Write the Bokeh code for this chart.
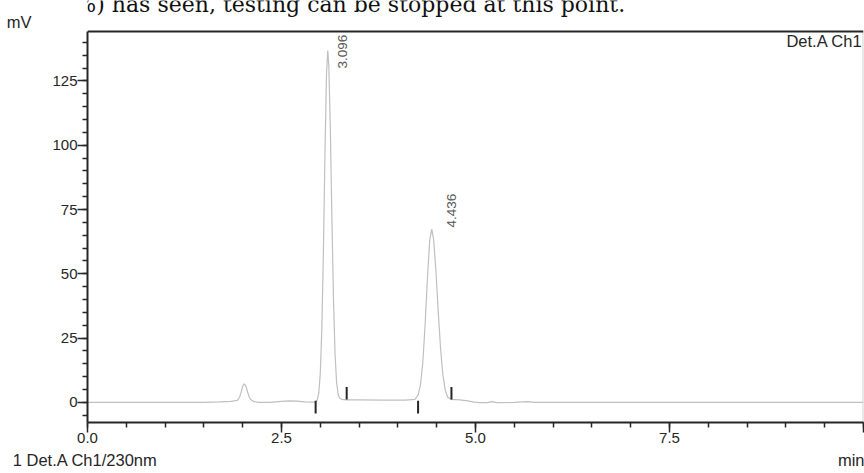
import math
from bokeh.plotting import figure
from bokeh.models import (Range1d, FixedTicker, LinearAxis, Label, ColumnDataSource,
                          PrintfTickFormatter, Span)
from bokeh.core.properties import value
from bokeh.embed import file_html
from bokeh.resources import INLINE

# ---------------- data ----------------
time_min = [0.00, 0.50, 1.00, 1.50, 1.70, 1.85, 1.93, 1.96, 1.98, 2.00, 2.02, 2.04,
            2.06, 2.08, 2.10, 2.14, 2.20, 2.35, 2.50, 2.60, 2.70, 2.80, 2.90, 2.94,
            2.96, 2.98, 3.00, 3.02, 3.04, 3.06, 3.08, 3.096, 3.11, 3.13, 3.15, 3.17,
            3.19, 3.21, 3.23, 3.25, 3.28, 3.34, 3.50, 3.80, 4.10, 4.22, 4.26, 4.29,
            4.32, 4.35, 4.38, 4.41, 4.436, 4.46, 4.49, 4.52, 4.55, 4.58, 4.61, 4.64,
            4.68, 4.80, 4.90, 4.98, 5.05, 5.15, 5.21, 5.27, 5.50, 5.60, 5.68, 5.76,
            6.50, 7.50, 8.50, 10.00]
signal_mv = [0.0, 0.0, 0.0, 0.0, 0.2, 0.4, 0.8, 2.0, 4.0, 6.3, 7.2, 6.4,
             4.4, 2.4, 1.2, 0.4, 0.0, 0.0, 0.4, 0.6, 0.5, 0.2, 0.1, 0.2,
             0.9, 3.6, 11.3, 28.7, 58.6, 96.4, 127.7, 136.8, 130.9, 105.3, 70.8, 39.9,
             18.9, 7.8, 3.1, 1.6, 1.2, 1.0, 1.0, 0.9, 0.9, 1.2, 2.8, 6.6,
             15.2, 29.8, 48.0, 63.0, 67.4, 63.5, 51.1, 35.2, 20.8, 10.7, 4.8, 2.1,
             1.2, 1.0, 0.6, 0.1, -0.1, -0.1, 0.3, -0.1, 0.0, 0.2, 0.3, 0.0,
             0.0, 0.0, 0.0, 0.0]

peak_rt = [3.096, 4.436]
peak_height = [136.8, 67.4]
peak_label = ["3.096", "4.436"]
peak_start = [2.94, 4.26]
peak_end = [3.34, 4.69]

x_major = [0.0, 2.5, 5.0, 7.5, 10.0]
x_minor = [i * 0.5 for i in range(21)]
y_major = [0, 25, 50, 75, 100, 125]
y_minor = [i * 5 for i in range(-1, 29)]

y_unit = "mV"
x_unit = "min"
detector = "Det.A Ch1"
trace_name = "1  Det.A Ch1/230nm"
page_text = "e: 3-20%) has seen, testing can be stopped at this point."

# ---------------- layout ----------------
W, H = 864, 473
FL, FR, FT, FB = 87, 863, 0, 422          # plot frame in canvas pixels
BOX_TOP = 31                               # drawn top border of the chart box
X0, X1 = 0.0, 10.0
Y0 = -7.8
PX_PER_MV = 2.5724
Y1 = Y0 + (FB - FT) / PX_PER_MV            # value at canvas top
YBOX = Y0 + (FB - BOX_TOP) / PX_PER_MV     # value at chart-box top (~144.2)


def dx(px):
    return X0 + (px - FL) * (X1 - X0) / (FR - FL)


def dy(py):
    return Y1 - (py - FT) / PX_PER_MV


FONT = "Liberation Sans"
INK = "#262626"

p = figure(width=W, height=H, output_backend="svg", toolbar_location=None,
           x_range=Range1d(X0, X1), y_range=Range1d(Y0, Y1),
           min_border_left=FL, min_border_right=W - FR,
           min_border_top=FT, min_border_bottom=H - FB)
p.grid.visible = False
p.background_fill_color = "white"
p.border_fill_color = "white"
p.outline_line_color = None

# axes
for ax, major, minor in ((p.xaxis[0], x_major, x_minor), (p.yaxis[0], y_major, y_minor)):
    ax.ticker = FixedTicker(ticks=major, minor_ticks=minor)
    ax.axis_line_color = INK
    ax.axis_line_width = 2
    ax.major_tick_line_color = INK
    ax.major_tick_line_width = 1.5
    ax.minor_tick_line_color = INK
    ax.minor_tick_line_width = 1.5
    ax.major_tick_in = 0
    ax.major_tick_out = 10
    ax.minor_tick_in = 0
    ax.minor_tick_out = 5
    ax.major_label_text_font = FONT
    ax.major_label_text_font_size = "15px"
    ax.major_label_text_color = INK
    ax.major_label_standoff = 0

p.yaxis[0].bounds = (Y0, YBOX)
p.xaxis[0].formatter = PrintfTickFormatter(format="%.1f")
p.xaxis[0].major_label_overrides = {10: ""}


def text_axis(side, ticks, labels, standoff, font=FONT, size="16.5px", color=INK):
    ax = LinearAxis(ticker=FixedTicker(ticks=ticks, minor_ticks=[]),
                    major_label_overrides=dict(zip(ticks, labels)),
                    axis_line_color=None, major_tick_line_color=None,
                    minor_tick_line_color=None, major_tick_in=0, major_tick_out=0,
                    minor_tick_in=0, minor_tick_out=0,
                    major_label_standoff=standoff, major_label_text_font=font,
                    major_label_text_font_size=size, major_label_text_color=color)
    p.add_layout(ax, side)
    return ax


# unit of the y axis, top left
text_axis("left", [dy(21)], [y_unit], 18)
# trace name and x unit below the axis
text_axis("below", [0.0, dx(852)], [trace_name, x_unit], 5)

# cut-off line of the surrounding document text, partly above the page
p.add_layout(Label(x=dx(-2), y=dy(4), text=page_text, text_font="DejaVu Serif",
                   text_font_size="22px", text_align="left",
                   text_baseline="alphabetic", text_color="#111111"))

# chart box: dark top edge, light right edge
p.add_layout(Span(location=YBOX, dimension="width", line_color=INK, line_width=2))
p.segment(x0=[X1], y0=[Y0], x1=[X1], y1=[YBOX], line_color="#d4d4d4", line_width=2)

# chromatogram trace
p.line(time_min, signal_mv, line_color="#bfbfbf", line_width=1.2)

# integration start / end markers
p.segment(x0=peak_start, y0=[-4.3] * len(peak_start), x1=peak_start,
          y1=[0.7] * len(peak_start), line_color=INK, line_width=2)
p.segment(x0=peak_end, y0=[1.1] * len(peak_end), x1=peak_end,
          y1=[6.0] * len(peak_end), line_color=INK, line_width=2)

# peak retention-time labels
lab_src = ColumnDataSource(dict(
    x=peak_rt,
    y=[min(h + 0.6, dy(68)) for h in peak_height],
    t=peak_label,
    xo=[15, 20],
))
p.text(x="x", y="y", text="t", x_offset="xo", source=lab_src, angle=math.pi / 2,
       text_align="left", text_baseline="middle", text_font=value(FONT),
       text_font_size="13.5px", text_color="#555555")

# detector caption, top right inside the box
p.add_layout(Label(x=dx(862), y=dy(40.5), text=detector, text_font=FONT,
                   text_font_size="16.5px", text_align="right",
                   text_baseline="alphabetic", text_color=INK))

open("out.html", "w").write(file_html(p, INLINE))
